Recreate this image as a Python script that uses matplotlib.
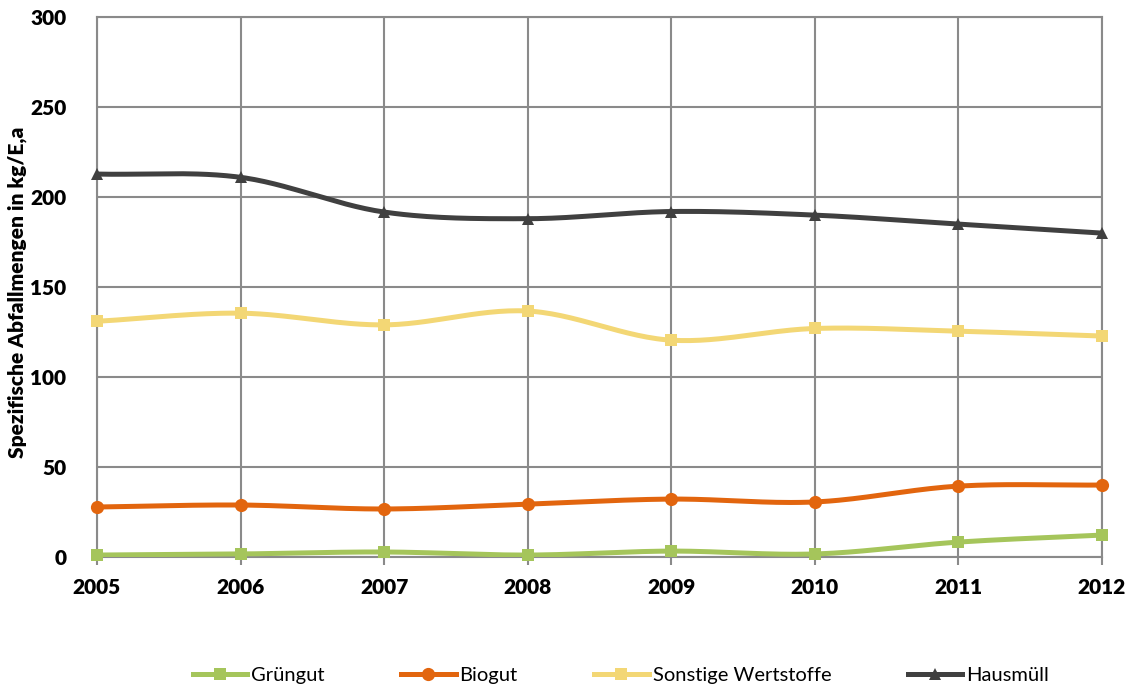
import numpy as np
import matplotlib
matplotlib.use("Agg")
import matplotlib.pyplot as plt
from matplotlib.lines import Line2D

plt.rcParams['font.family'] = ['Lato', 'DejaVu Sans']

years = [2005, 2006, 2007, 2008, 2009, 2010, 2011, 2012]
gruengut = [1.1, 1.7, 2.8, 1.1, 3.3, 1.7, 8.3, 12.2]
biogut = [27.8, 28.9, 26.7, 29.4, 32.2, 30.6, 39.4, 40.0]
sonstige = [131.0, 135.5, 129.0, 136.7, 120.5, 127.0, 125.5, 122.8]
hausmuell = [212.8, 211.0, 191.7, 188.0, 192.0, 190.0, 185.0, 180.0]

series = [
    ("Grüngut", gruengut, "#A5C55B", "s"),
    ("Biogut", biogut, "#E2650E", "o"),
    ("Sonstige Wertstoffe", sonstige, "#F3D775", "s"),
    ("Hausmüll", hausmuell, "#404040", "^"),
]


def smooth(xs, ys, n=30):
    xs = np.asarray(xs, float)
    ys = np.asarray(ys, float)
    P = np.column_stack([xs, ys])
    P = np.vstack([P[0] * 2 - P[1], P, P[-1] * 2 - P[-2]])
    out = []
    for i in range(1, len(P) - 2):
        p0, p1, p2, p3 = P[i - 1], P[i], P[i + 1], P[i + 2]
        t = np.linspace(0, 1, n, endpoint=False)[:, None]
        c = 0.5 * ((2 * p1) + (-p0 + p2) * t + (2 * p0 - 5 * p1 + 4 * p2 - p3) * t ** 2
                   + (-p0 + 3 * p1 - 3 * p2 + p3) * t ** 3)
        out.append(c)
    out.append(P[-2][None, :])
    out = np.vstack(out)
    return out[:, 0], out[:, 1]


fig = plt.figure(figsize=(11.33, 6.86), dpi=100)
ax = fig.add_axes([0.0856, 0.188, 0.887, 0.787])

x = np.arange(len(years))
handles = []
for name, vals, col, mk in series:
    sx, sy = smooth(x, vals)
    ax.plot(sx, sy, color=col, lw=3.6, solid_capstyle='round', zorder=3)
    ms = 9 if mk != "o" else 9.5
    ax.plot(x, vals, linestyle='none', marker=mk, markersize=ms, color=col,
            markeredgewidth=0, zorder=4, clip_on=False)
    handles.append(Line2D([0], [0], color=col, lw=3.6, marker=mk, markersize=ms,
                          markeredgewidth=0))

ax.set_xlim(0, len(years) - 1)
ax.set_ylim(0, 300)
ax.set_yticks(range(0, 301, 50))
ax.set_xticks(x)
ax.set_xticklabels([str(y) for y in years])
ax.grid(True, color='#8A8A8A', lw=1.5)
ax.set_axisbelow(True)
for s in ax.spines.values():
    s.set_color('#8A8A8A')
    s.set_linewidth(1.5)
ax.tick_params(axis='both', colors='#8A8A8A', labelcolor='black', labelsize=15)
ax.tick_params(axis='x', length=6, width=1.5, pad=9)
ax.tick_params(axis='y', length=0, pad=22)
for lab in ax.get_xticklabels() + ax.get_yticklabels():
    lab.set_fontweight('heavy')

ax.set_ylabel("Spezifische Abfallmengen in kg/E,a", fontsize=15, fontweight='heavy')
ax.yaxis.set_label_coords(-0.07, 0.49)

fig.legend(handles, [s[0] for s in series], loc='center', bbox_to_anchor=(0.548, 0.016),
           ncol=4, frameon=False, fontsize=14.5, handlelength=2.7, columnspacing=3.8,
           handletextpad=0.2)

fig.savefig("out.png", dpi=100)
